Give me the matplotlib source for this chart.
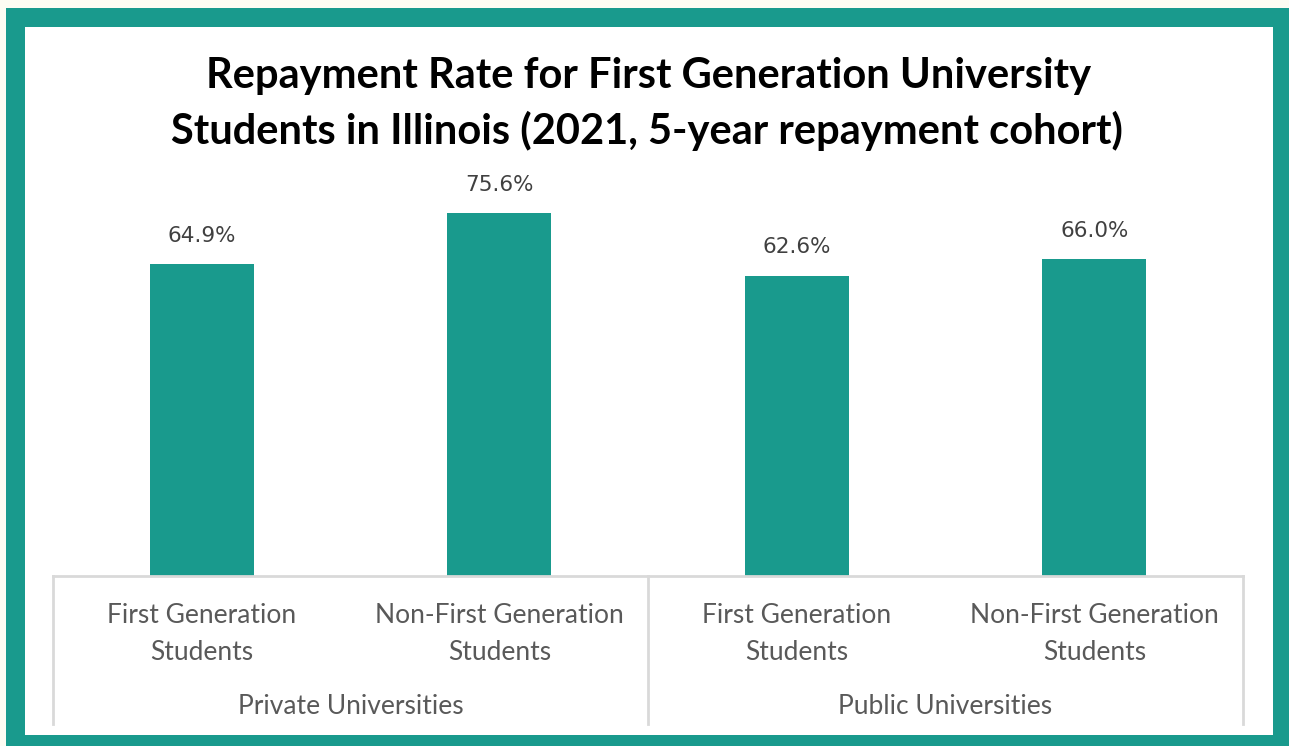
import matplotlib.pyplot as plt
from matplotlib.patches import Rectangle

# repayment rates (%) by student group
groups = ['Private Universities', 'Public Universities']
categories = ['First Generation\nStudents', 'Non-First Generation\nStudents',
              'First Generation\nStudents', 'Non-First Generation\nStudents']
rates = [64.9, 75.6, 62.6, 66.0]

title_lines = ['Repayment Rate for First Generation University',
               'Students in Illinois (2021, 5-year repayment cohort)']

TEAL = '#199a8d'
W, H = 1289, 746


def fx(px):
    return px / W


def fy(py):
    # pixel row measured from the top -> figure fraction
    return 1 - py / H


fig = plt.figure(figsize=(W / 100, H / 100), dpi=100)
fig.patch.set_facecolor('#fdfcf3')

# teal frame with white panel inside
fig.patches.append(Rectangle((fx(6), 0), 1, fy(8), transform=fig.transFigure,
                             facecolor=TEAL, edgecolor='none', zorder=0))
fig.patches.append(Rectangle((fx(25), fy(735)), fx(1273 - 25), (735 - 27) / H,
                             transform=fig.transFigure, facecolor='white',
                             edgecolor='none', zorder=0))

ax_left, ax_right, ax_bottom, ax_top = 53, 1243, 576, 170
ax = fig.add_axes([fx(ax_left), fy(ax_bottom), fx(ax_right - ax_left),
                   (ax_bottom - ax_top) / H])
ax.set_facecolor('none')
ax.set_zorder(2)

x = list(range(len(rates)))
bars = ax.bar(x, rates, width=0.35, color=TEAL, zorder=2)
ax.set_xlim(-0.5, len(rates) - 0.5)
ax.set_ylim(0, (ax_bottom - ax_top) / 4.8)

for spine in ax.spines.values():
    spine.set_visible(False)
ax.set_xticks([])
ax.set_yticks([])

for b, v in zip(bars, rates):
    ax.annotate(f'{v:.1f}%', (b.get_x() + b.get_width() / 2, v),
                xytext=(0, 16), textcoords='offset points', ha='center',
                va='baseline', fontsize=15.5, color='#404040',
                family='DejaVu Sans')

# category axis: baseline and group separators
tr = ax.get_xaxis_transform()
h_ax = ax_bottom - ax_top
sep_bottom = -(724 - ax_bottom) / h_ax
ax.plot([-0.5, len(rates) - 0.5], [0, 0], transform=tr, color='#d9d9d9',
        lw=2, clip_on=False, zorder=3)
for sx in [-0.5, 1.5, 3.5]:
    ax.plot([sx, sx], [0, sep_bottom], transform=tr, color='#d9d9d9', lw=2,
            clip_on=False, zorder=3)

for xi, label in zip(x, categories):
    ax.text(xi, -(634 - ax_bottom) / h_ax, label, transform=tr, ha='center',
            va='center', fontsize=19, color='#595959', family='Lato',
            linespacing=1.6)

for gi, g in enumerate(groups):
    ax.text(2 * gi + 0.5, -(707 - ax_bottom) / h_ax, g, transform=tr,
            ha='center', va='center', fontsize=19, color='#595959',
            family='Lato')

fig.text(fx(649), fy(88), title_lines[0], ha='center', va='baseline',
         fontsize=30, fontweight='bold', family='Lato', color='black')
fig.text(fx(647), fy(144), title_lines[1], ha='center', va='baseline',
         fontsize=30, fontweight='bold', family='Lato', color='black')

fig.savefig('out.png', dpi=100, facecolor=fig.get_facecolor())
